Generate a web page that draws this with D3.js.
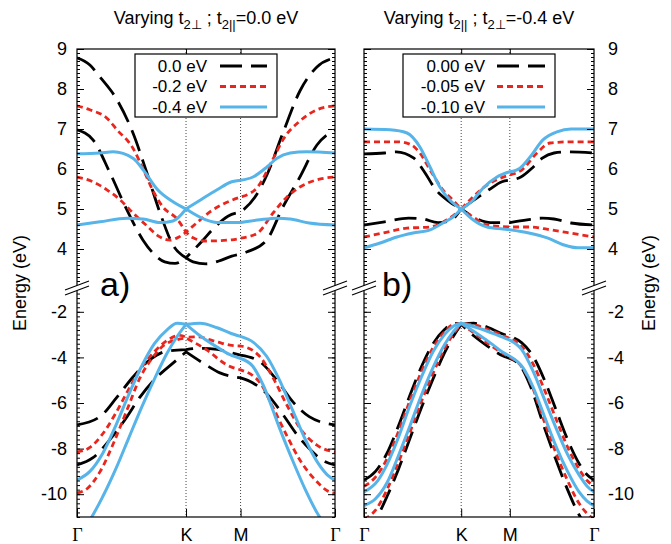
<!DOCTYPE html>
<html><head><meta charset="utf-8">
<script src="https://cdn.jsdelivr.net/npm/d3@7"></script>
<style>body{margin:0;background:#fff} text{font-family:"Liberation Sans",Arial,sans-serif;fill:#000}</style>
</head><body><svg id="c" width="671" height="544"></svg>
<script>
// ---------- data (path coordinate t: Γ=0, K=0.4226, M=0.634, Γ=1) ----------
const kPath = [0, 0.4226, 0.634, 1];
const kLabels = ["Γ", "K", "M", "Γ"];
const upperTicks = [4, 5, 6, 7, 8, 9];
const lowerTicks = [-10, -8, -6, -4, -2];
const legendA = ["0.0 eV", "-0.2 eV", "-0.4 eV"];
const legendB = ["0.00 eV", "-0.05 eV", "-0.10 eV"];

// panel a, conduction bands
const aUpBlackTop = [[0,8.78],[0.05,8.6],[0.089,8.3],[0.155,7.73],[0.217,6.9],[0.271,5.9],[0.322,4.9],[0.372,4.1],[0.4226,3.78],[0.488,4.22],[0.523,4.47],[0.585,4.82],[0.634,4.92],[0.69,5.3],[0.736,5.85],[0.798,6.9],[0.864,7.95],[0.93,8.55],[1,8.78]];
const aUpBlackBot = [[0,6.98],[0.062,6.73],[0.128,5.9],[0.194,4.97],[0.256,4.22],[0.3,3.86],[0.34,3.68],[0.38,3.64],[0.4226,3.78],[0.45,3.68],[0.5,3.63],[0.55,3.7],[0.6,3.82],[0.634,3.87],[0.66,3.93],[0.736,4.23],[0.798,5.05],[0.864,5.8],[0.93,6.6],[1,6.98]];
const aUpRedTop = [[0,7.58],[0.05,7.48],[0.116,7.27],[0.155,6.98],[0.217,6.52],[0.256,6.0],[0.295,5.45],[0.333,5.05],[0.388,4.75],[0.4226,4.42],[0.469,4.68],[0.52,4.95],[0.575,5.15],[0.634,5.3],[0.7,5.55],[0.76,6.25],[0.8,6.75],[0.864,7.2],[0.93,7.48],[1,7.58]];
const aUpRedBot = [[0,5.8],[0.062,5.68],[0.116,5.48],[0.167,5.23],[0.217,4.9],[0.264,4.62],[0.322,4.3],[0.36,4.22],[0.395,4.3],[0.4226,4.42],[0.45,4.28],[0.5,4.2],[0.6,4.23],[0.634,4.27],[0.7,4.4],[0.76,4.9],[0.814,5.3],[0.864,5.55],[0.93,5.73],[1,5.8]];
const aUpBlueTop = [[0,6.38],[0.089,6.4],[0.14,6.43],[0.217,6.27],[0.26,5.95],[0.31,5.5],[0.372,5.18],[0.4226,5.0],[0.477,5.22],[0.543,5.48],[0.6,5.68],[0.634,5.72],[0.682,5.8],[0.736,6.05],[0.775,6.27],[0.826,6.4],[0.89,6.43],[1,6.4]];
const aUpBlueBot = [[0,4.6],[0.089,4.68],[0.194,4.77],[0.256,4.75],[0.322,4.66],[0.372,4.7],[0.4226,5.0],[0.5,4.73],[0.55,4.66],[0.6,4.66],[0.634,4.66],[0.709,4.73],[0.775,4.77],[0.826,4.75],[0.9,4.65],[1,4.6]];
// panel a, valence bands
const aLoBlackTop = [[0,-6.96],[0.089,-6.6],[0.155,-5.74],[0.217,-4.86],[0.283,-4.1],[0.35,-3.72],[0.4226,-3.66],[0.477,-3.6],[0.543,-3.65],[0.6,-3.8],[0.634,-3.9],[0.71,-4.2],[0.775,-5.0],[0.837,-5.95],[0.9,-6.6],[0.95,-6.85],[1,-6.96]];
const aLoBlackBot = [[0,-8.72],[0.062,-8.4],[0.128,-7.6],[0.194,-6.6],[0.244,-5.74],[0.31,-4.86],[0.372,-4.25],[0.4226,-3.76],[0.5,-4.33],[0.554,-4.68],[0.634,-4.9],[0.682,-5.12],[0.736,-5.6],[0.798,-6.5],[0.85,-7.35],[0.9,-8.0],[0.95,-8.5],[1,-8.72]];
const aLoRedTop = [[0,-8.15],[0.05,-7.95],[0.1,-7.35],[0.15,-6.45],[0.2,-5.4],[0.25,-4.45],[0.3,-3.75],[0.35,-3.25],[0.4,-3.03],[0.4226,-3.12],[0.465,-3.1],[0.543,-3.32],[0.593,-3.46],[0.634,-3.5],[0.682,-3.7],[0.71,-3.98],[0.76,-4.9],[0.814,-6.1],[0.864,-7.1],[0.93,-7.85],[1,-8.15]];
const aLoRedBot = [[0,-9.95],[0.04,-9.75],[0.09,-9.0],[0.14,-7.8],[0.194,-6.3],[0.244,-4.9],[0.295,-3.98],[0.333,-3.5],[0.39,-3.22],[0.4226,-3.15],[0.504,-3.68],[0.581,-4.33],[0.634,-4.55],[0.71,-5.12],[0.76,-6.2],[0.814,-7.45],[0.864,-8.5],[0.93,-9.45],[0.97,-9.85],[1,-9.95]];
const aLoBlueTop = [[0,-9.38],[0.05,-9.0],[0.1,-8.2],[0.15,-7.0],[0.2,-5.65],[0.25,-4.4],[0.3,-3.4],[0.35,-2.78],[0.388,-2.5],[0.4226,-2.55],[0.477,-2.5],[0.543,-2.7],[0.593,-2.93],[0.634,-3.08],[0.685,-3.35],[0.735,-3.95],[0.785,-5.0],[0.835,-6.3],[0.885,-7.6],[0.935,-8.65],[0.97,-9.15],[1,-9.38]];
const aLoBlueBot = [[0,-11.8],[0.04,-11.3],[0.1,-10.1],[0.15,-8.9],[0.2,-7.55],[0.25,-6.2],[0.3,-4.95],[0.35,-3.8],[0.39,-3.05],[0.4226,-2.55],[0.477,-3.05],[0.543,-3.55],[0.593,-3.88],[0.634,-4.05],[0.682,-4.4],[0.721,-5.2],[0.785,-7.1],[0.835,-8.5],[0.885,-9.8],[0.935,-10.9],[0.96,-11.3],[1,-11.8]];
// panel b (black series = same parameters as blue in panel a)
const bUpRedTop = [[0,6.68],[0.15,6.68],[0.2,6.62],[0.243,6.4],[0.287,5.98],[0.343,5.48],[0.387,5.22],[0.4226,5.0],[0.474,5.3],[0.535,5.6],[0.634,5.85],[0.687,5.98],[0.752,6.4],[0.809,6.65],[0.9,6.68],[1,6.68]];
const bUpRedBot = [[0,4.3],[0.083,4.4],[0.187,4.52],[0.287,4.55],[0.361,4.73],[0.4226,5.0],[0.474,4.8],[0.535,4.6],[0.634,4.55],[0.722,4.55],[0.809,4.48],[0.896,4.4],[1,4.3]];
const bUpBlueTop = [[0,7.0],[0.113,6.98],[0.187,6.9],[0.243,6.55],[0.287,6.05],[0.33,5.55],[0.374,5.22],[0.4226,5.0],[0.474,5.22],[0.517,5.52],[0.578,5.8],[0.634,5.93],[0.678,6.02],[0.722,6.3],[0.778,6.73],[0.839,6.93],[0.9,7.0],[1,7.0]];
const bUpBlueBot = [[0,4.03],[0.07,4.15],[0.143,4.3],[0.213,4.4],[0.287,4.48],[0.343,4.65],[0.387,4.8],[0.4226,5.0],[0.474,4.73],[0.535,4.55],[0.604,4.5],[0.634,4.48],[0.717,4.4],[0.8,4.27],[0.87,4.1],[0.93,4.03],[1,4.03]];
const bLoRedTop = [[0,-9.65],[0.05,-9.25],[0.1,-8.45],[0.15,-7.25],[0.2,-5.88],[0.25,-4.62],[0.3,-3.58],[0.35,-2.88],[0.39,-2.55],[0.4226,-2.52],[0.49,-2.6],[0.56,-2.86],[0.634,-3.17],[0.685,-3.5],[0.735,-4.28],[0.785,-5.43],[0.835,-6.7],[0.885,-7.93],[0.935,-8.9],[0.97,-9.4],[1,-9.65]];
const bLoRedBot = [[0,-11.1],[0.05,-10.7],[0.1,-9.8],[0.15,-8.6],[0.2,-7.28],[0.25,-5.92],[0.3,-4.7],[0.35,-3.62],[0.39,-2.95],[0.4226,-2.52],[0.485,-2.98],[0.55,-3.47],[0.6,-3.8],[0.634,-4.0],[0.686,-4.42],[0.728,-5.2],[0.785,-6.85],[0.835,-8.2],[0.885,-9.4],[0.935,-10.4],[0.97,-10.85],[1,-11.1]];
const bLoBlueTop = [[0,-9.9],[0.06,-9.4],[0.1,-8.7],[0.15,-7.5],[0.2,-6.1],[0.25,-4.85],[0.3,-3.75],[0.35,-3.0],[0.39,-2.62],[0.4226,-2.5],[0.5,-2.72],[0.58,-3.02],[0.634,-3.24],[0.685,-3.65],[0.735,-4.6],[0.785,-5.85],[0.835,-7.1],[0.885,-8.25],[0.935,-9.15],[0.97,-9.65],[1,-9.9]];
const bLoBlueBot = [[0,-10.5],[0.05,-10.2],[0.1,-9.5],[0.15,-8.3],[0.2,-7.0],[0.25,-5.65],[0.3,-4.45],[0.35,-3.45],[0.39,-2.85],[0.4226,-2.5],[0.491,-2.95],[0.561,-3.45],[0.6,-3.75],[0.634,-3.95],[0.691,-4.45],[0.735,-5.3],[0.785,-6.6],[0.835,-7.9],[0.885,-9.0],[0.935,-9.9],[0.97,-10.3],[1,-10.5]];

// ---------- styles ----------
const styles = {
  black: {stroke: "#000000", dash: "22,9", w: 2.8},
  red:   {stroke: "#e8261e", dash: "6,4", w: 2.8},
  blue:  {stroke: "#56b4e9", dash: null, w: 3}
};
const TOP = 49, BOT = 517, BRK = 289;
const yUp = d3.scaleLinear().domain([3, 9]).range([BRK, TOP]);
const yLo = d3.scaleLinear().domain([-11, -1]).range([BOT, BRK]);

const panels = [
  {id: "a", x0: 77, x1: 335, left: true, legend: legendA,
   lbox: [135, 54, 142, 63], ltx: 207, llx: [220, 267], tag: "a)", tagX: 100,
   title: [["Varying t", 0], ["2⊥", 1], [" ; t", 0], ["2||", 1], ["=0.0 eV", 0]], titleX: 206,
   up: [[aUpBlackTop,"black"],[aUpBlackBot,"black"],[aUpRedTop,"red"],[aUpRedBot,"red"],[aUpBlueTop,"blue"],[aUpBlueBot,"blue"]],
   lo: [[aLoBlackTop,"black"],[aLoBlackBot,"black"],[aLoRedTop,"red"],[aLoRedBot,"red"],[aLoBlueTop,"blue"],[aLoBlueBot,"blue"]]},
  {id: "b", x0: 364, x1: 594, left: false, legend: legendB,
   lbox: [403, 54, 152, 63], ltx: 485, llx: [497, 545], tag: "b)", tagX: 382,
   title: [["Varying t", 0], ["2||", 1], [" ; t", 0], ["2⊥", 1], ["=-0.4 eV", 0]], titleX: 479,
   up: [[aUpBlueTop,"black"],[aUpBlueBot,"black"],[bUpRedTop,"red"],[bUpRedBot,"red"],[bUpBlueTop,"blue"],[bUpBlueBot,"blue"]],
   lo: [[aLoBlueTop,"black"],[aLoBlueBot,"black"],[bLoRedTop,"red"],[bLoRedBot,"red"],[bLoBlueTop,"blue"],[bLoBlueBot,"blue"]]}
];

const svg = d3.select("#c");
const FONT = '"Liberation Sans", Arial, sans-serif';

function bandPath(data, x, y) {
  const line = d3.line().x(d => x(d[0])).y(d => y(d[1])).curve(d3.curveMonotoneX);
  let out = "";
  for (let s = 0; s < 3; s++) {
    const a = kPath[s], b = kPath[s + 1];
    const seg = data.filter(p => p[0] >= a - 1e-9 && p[0] <= b + 1e-9);
    let p = line(seg);
    if (s > 0) p = "L" + p.slice(1);
    out += p;
  }
  return out;
}
function styleLine(sel, st) {
  sel.attr("fill", "none").attr("stroke", st.stroke).attr("stroke-width", st.w)
     .attr("stroke-dasharray", st.dash).attr("stroke-linecap", "butt");
}

const upMinor = d3.range(32, 91).map(v => v / 10);
const loMinor = d3.range(-55, -5).map(v => v / 5);
const plainFmt = d => String(d);

panels.forEach(P => {
  const x = d3.scaleLinear().domain([0, 1]).range([P.x0, P.x1]);
  const g = svg.append("g");
  const clipId = "clip" + P.id;
  svg.append("clipPath").attr("id", clipId).append("rect")
     .attr("x", P.x0).attr("y", TOP).attr("width", P.x1 - P.x0).attr("height", BOT - TOP);

  // dotted verticals at K, M
  g.selectAll("line.kv").data([kPath[1], kPath[2]]).join("line")
    .attr("x1", d => x(d)).attr("x2", d => x(d)).attr("y1", TOP).attr("y2", BOT)
    .attr("stroke", "#444").attr("stroke-width", 1).attr("stroke-dasharray", "1,2");

  // curves
  const cg = g.append("g").attr("clip-path", `url(#${clipId})`);
  P.up.forEach(([d, s]) => cg.append("path").attr("d", bandPath(d, x, yUp)).call(styleLine, styles[s]));
  P.lo.forEach(([d, s]) => cg.append("path").attr("d", bandPath(d, x, yLo)).call(styleLine, styles[s]));

  // frame
  g.append("rect").attr("x", P.x0).attr("y", TOP).attr("width", P.x1 - P.x0).attr("height", BOT - TOP)
    .attr("fill", "none").attr("stroke", "#000").attr("stroke-width", 1.2);

  // y axes (ticks inward)
  const strip = s => { s.select(".domain").remove(); s.selectAll(".tick line").attr("stroke", "#000"); };
  const mkAxis = (axisFn, xpos, scale, vals, size, labels, pad) => {
    const ax = axisFn(scale).tickValues(vals).tickSize(size).tickPadding(pad)
      .tickFormat(labels ? plainFmt : "");
    const ag = g.append("g").attr("transform", `translate(${xpos},0)`).call(ax).call(strip);
    ag.selectAll("text").style("font-family", FONT).style("font-size", "18px").attr("fill", "#000");
    return ag;
  };
  [[yUp, upperTicks, upMinor], [yLo, lowerTicks, loMinor]].forEach(([sc, maj, mn]) => {
    mkAxis(d3.axisLeft, P.x0, sc, maj, -7, P.left, 10);
    mkAxis(d3.axisLeft, P.x0, sc, mn, -3, false, 10);
    mkAxis(d3.axisRight, P.x1, sc, maj, -7, !P.left, 14);
    mkAxis(d3.axisRight, P.x1, sc, mn, -3, false, 14);
  });

  // x axes
  g.append("g").attr("transform", `translate(0,${TOP})`)
    .call(d3.axisTop(x).tickValues([kPath[1], kPath[2]]).tickSize(-8).tickFormat("")).call(strip);
  const xb = g.append("g").attr("transform", `translate(0,${BOT})`)
    .call(d3.axisBottom(x).tickValues(kPath).tickSize(-8).tickPadding(11).tickFormat((d, i) => kLabels[i])).call(strip);
  xb.selectAll("text").style("font-size", "18px").attr("fill", "#000")
    .style("font-family", (d, i) => kLabels[i] === "Γ" ? '"Liberation Serif", "DejaVu Serif", serif' : FONT);

  // axis break marks
  [P.x0, P.x1].forEach(bx => {
    const y0 = 288, hw = 12, sl = 4.5, gap = 2.4;
    g.append("polygon").attr("points",
      [[bx - hw, y0 + sl - gap], [bx + hw, y0 - sl - gap], [bx + hw, y0 - sl + gap], [bx - hw, y0 + sl + gap]].map(p => p.join(",")).join(" "))
      .attr("fill", "#fff");
    [-gap, gap].forEach(o => g.append("line")
      .attr("x1", bx - hw).attr("y1", y0 + sl + o).attr("x2", bx + hw).attr("y2", y0 - sl + o)
      .attr("stroke", "#000").attr("stroke-width", 1.1));
  });

  // panel tag
  g.append("text").attr("x", P.tagX).attr("y", 296).style("font-size", "34px").style("font-family", FONT).text(P.tag);

  // title
  const t = g.append("text").attr("x", P.titleX).attr("y", 24).attr("text-anchor", "middle")
    .style("font-size", "18px").style("font-family", FONT);
  let prevSub = 0;
  P.title.forEach(([txt, sub]) => {
    const dy = sub === prevSub ? 0 : (sub ? 5 : -5);
    t.append("tspan").attr("dy", dy).style("font-size", sub ? "13px" : "18px").text(txt);
    prevSub = sub;
  });

  // legend
  const [lx, ly, lw, lh] = P.lbox;
  g.append("rect").attr("x", lx).attr("y", ly).attr("width", lw).attr("height", lh)
    .attr("fill", "#fff").attr("stroke", "#000").attr("stroke-width", 1.2);
  const keys = ["black", "red", "blue"];
  const rowY = [66, 86.5, 107];
  P.legend.forEach((lab, i) => {
    g.append("text").attr("x", P.ltx).attr("y", rowY[i]).attr("dy", "0.35em").attr("text-anchor", "end")
      .style("font-size", "17px").style("font-family", FONT).text(lab);
    g.append("line").attr("x1", P.llx[0]).attr("x2", P.llx[1]).attr("y1", rowY[i]).attr("y2", rowY[i])
      .call(styleLine, styles[keys[i]]);
  });
});

// y labels
[26, 655].forEach(xx => {
  svg.append("text").attr("transform", `translate(${xx},283) rotate(-90)`).attr("text-anchor", "middle")
    .style("font-size", "18px").style("font-family", FONT).text("Energy (eV)");
});
</script></body></html>
